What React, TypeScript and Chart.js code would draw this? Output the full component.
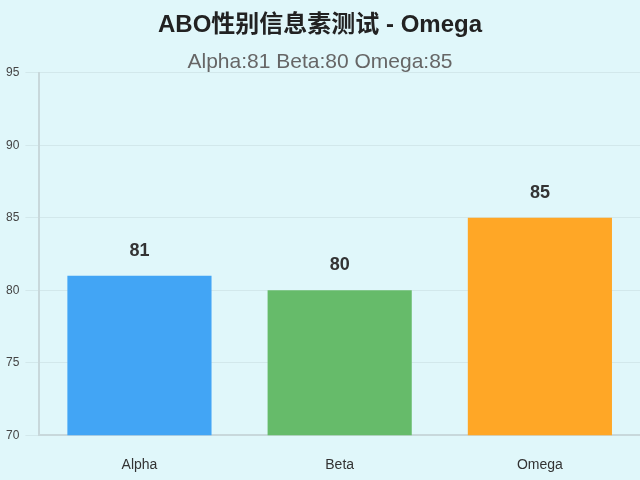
import React, { useEffect, useRef } from "react";
import { Chart, registerables } from "chart.js";

Chart.register(...registerables);

const categories = ["Alpha", "Beta", "Omega"];
const values = [81, 80, 85];
const barColors = ["#42a5f5", "#66bb6a", "#ffa726"];
const yTicks = { min: 70, max: 95, step: 5 };
const titleText = "ABO性别信息素测试 - Omega";
const subtitleText = "Alpha:81 Beta:80 Omega:85";

const FONT = "'Liberation Sans', Arial, 'Noto Sans CJK SC', sans-serif";

const valueLabelPlugin = {
  id: "valueLabels",
  afterDatasetsDraw(chart: any) {
    const { ctx } = chart;
    const meta = chart.getDatasetMeta(0);
    ctx.save();
    ctx.font = `bold 18px ${FONT}`;
    ctx.fillStyle = "#333333";
    ctx.textAlign = "center";
    ctx.textBaseline = "bottom";
    meta.data.forEach((bar: any, i: number) => {
      ctx.fillText(String(values[i]), bar.x, bar.y - 16);
    });
    ctx.restore();
  },
};

export default function App() {
  const ref = useRef<HTMLCanvasElement>(null);
  useEffect(() => {
    document.body.style.margin = "0";
    document.body.style.background = "#e0f7fa";
    const chart = new Chart(ref.current!, {
      type: "bar",
      data: {
        labels: categories,
        datasets: [
          {
            data: values,
            backgroundColor: barColors,
            borderWidth: 0,
          },
        ],
      },
      options: {
        animation: false,
        responsive: false,
        maintainAspectRatio: false,
        layout: { padding: { left: 0, right: 0, top: 11, bottom: 3 } },
        plugins: {
          legend: { display: false },
          tooltip: { enabled: false },
          title: {
            display: true,
            text: titleText,
            color: "#222222",
            font: { family: FONT, size: 24, weight: "bold" },
            padding: { top: 0, bottom: 10 },
          },
          subtitle: {
            display: true,
            text: subtitleText,
            color: "#666666",
            font: { family: FONT, size: 21, weight: "normal", lineHeight: 1.0 },
            padding: { top: 2, bottom: 0 },
          },
        },
        scales: {
          x: {
            grid: {
              display: true,
              drawOnChartArea: false,
              drawTicks: true,
              tickLength: 19,
              tickColor: "rgba(0,0,0,0)",
            },
            border: { display: true, color: "#c8d8db", width: 2 },
            ticks: {
              color: "#333333",
              font: { family: FONT, size: 14 },
              padding: 3,
            },
          },
          y: {
            min: yTicks.min,
            max: yTicks.max,
            ticks: {
              stepSize: yTicks.step,
              color: "#444444",
              font: { family: FONT, size: 12 },
              padding: 6,
            },
            grid: { color: "rgba(0,0,0,0.06)", tickLength: 14 },
            border: { display: true, color: "#c8d8db", width: 2 },
          },
        },
      },
      plugins: [valueLabelPlugin],
    });
    return () => chart.destroy();
  }, []);
  return (
    <div style={{ width: 640, height: 480, background: "#e0f7fa" }}>
      <canvas ref={ref} width={640} height={480} style={{ display: "block" }} />
    </div>
  );
}
